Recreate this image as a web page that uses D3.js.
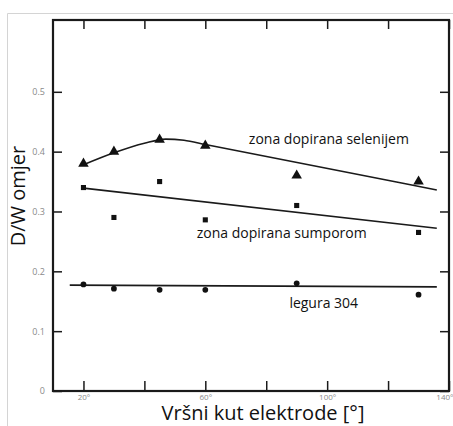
<!DOCTYPE html>
<html><head><meta charset="utf-8">
<script src="https://cdn.jsdelivr.net/npm/d3@7"></script>
<style>body{margin:0;background:#fff;} svg{display:block;}</style>
</head><body>
<svg id="c" width="453" height="426"></svg>
<script>
// data
const angles = [20, 30, 45, 60, 90, 130];
const selenium = [0.38, 0.40, 0.42, 0.41, 0.36, 0.35];
const sulfur = [0.34, 0.29, 0.35, 0.286, 0.31, 0.265];
const alloy304 = [0.178, 0.171, 0.169, 0.169, 0.180, 0.161];
const seleniumFitX = [20, 30, 40, 47, 53, 60, 136];
const seleniumFitY = [0.378, 0.398, 0.414, 0.421, 0.419, 0.412, 0.336];
const sulfurFitX = [20, 136];
const sulfurFitY = [0.339, 0.272];
const alloyFitX = [15.5, 136];
const alloyFitY = [0.177, 0.174];
const xTicks = [20, 40, 60, 80, 100, 120, 140];
const xTickLabels = ["20°", "", "60°", "", "100°", "", "140°"];
const yTicks = [0, 0.1, 0.2, 0.3, 0.4, 0.5];
const yTickLabels = ["0", "0.1", "0.2", "0.3", "0.4", "0.5"];
const seriesLabels = ["zona dopirana selenijem", "zona dopirana sumporom", "legura 304"];
const labelPos = [[74.3, 0.412], [57.2, 0.255], [87.6, 0.139]];

const svg = d3.select("#c");
const x = d3.scaleLinear().domain([10, 140]).range([53, 449]);
const y = d3.scaleLinear().domain([0, 0.62]).range([391, 20]);
const ink = "#1a1a1a";
const X0 = x(10), X1 = x(140), Y0 = y(0), Y1 = y(0.62);
const tickFont = "'Open Sans', sans-serif";

// scan border
svg.append("path").attr("d", d3.line()([[7.5, 426], [7.5, 13.5], [453, 13.5]]))
  .attr("fill", "none").attr("stroke", "#d4d4d4").attr("stroke-width", 1);

// frame
svg.append("rect").attr("x", X0).attr("y", Y1).attr("width", X1 - X0).attr("height", Y0 - Y1)
  .attr("fill", "none").attr("stroke", ink).attr("stroke-width", 2.2);

function styleAxis(g) {
  g.select(".domain").remove();
  g.selectAll(".tick line").attr("stroke", ink).attr("stroke-width", 1.5);
}
// bottom axis, ticks pointing inward
const xb = svg.append("g").attr("transform", `translate(0,${Y0})`)
  .call(d3.axisBottom(x).tickValues(xTicks).tickSizeInner(-10).tickSizeOuter(0).tickPadding(3)
    .tickFormat((d, i) => xTickLabels[i]));
styleAxis(xb);
xb.selectAll("text").attr("fill", "#8a8a8a").style("font-family", tickFont).style("font-size", "8px");
xb.selectAll(".tick").filter(d => d === 140).select("text").attr("text-anchor", "end").attr("x", 4);
// top axis
const xt = svg.append("g").attr("transform", `translate(0,${Y1})`)
  .call(d3.axisTop(x).tickValues(xTicks).tickSizeInner(-9).tickSizeOuter(0).tickFormat(""));
styleAxis(xt);
// left axis
const yl = svg.append("g").attr("transform", `translate(${X0},0)`)
  .call(d3.axisLeft(y).tickValues(yTicks).tickSizeInner(-9).tickSizeOuter(0).tickPadding(8)
    .tickFormat((d, i) => yTickLabels[i]));
styleAxis(yl);
yl.selectAll("text").attr("fill", "#8a8a8a").style("font-family", tickFont).style("font-size", "9px");
// right axis
const yr = svg.append("g").attr("transform", `translate(${X1},0)`)
  .call(d3.axisRight(y).tickValues(yTicks).tickSizeInner(-9).tickSizeOuter(0).tickFormat(""));
styleAxis(yr);

// fitted lines
const fits = [
  [d3.zip(seleniumFitX, seleniumFitY), d3.curveMonotoneX],
  [d3.zip(sulfurFitX, sulfurFitY), d3.curveLinear],
  [d3.zip(alloyFitX, alloyFitY), d3.curveLinear]
];
fits.forEach(([pts, curve]) => {
  const line = d3.line().x(d => x(d[0])).y(d => y(d[1])).curve(curve);
  svg.append("path").datum(pts).attr("d", line)
    .attr("fill", "none").attr("stroke", ink).attr("stroke-width", 1.6);
});

// markers
const sym = [d3.symbolTriangle, d3.symbolSquare, d3.symbolCircle];
const sizes = [48, 26, 26];
[selenium, sulfur, alloy304].forEach((vals, k) => {
  svg.append("g").selectAll("path").data(d3.zip(angles, vals)).join("path")
    .attr("transform", d => `translate(${x(d[0])},${y(d[1])})`)
    .attr("d", d3.symbol().type(sym[k]).size(sizes[k]))
    .attr("fill", "#111");
});

// series labels
seriesLabels.forEach((t, i) => {
  svg.append("text").attr("x", x(labelPos[i][0])).attr("y", y(labelPos[i][1]))
    .text(t).attr("fill", "#111").style("font-family", tickFont).style("font-size", "14px");
});

// axis titles
svg.append("text").attr("x", 263).attr("y", 420).attr("text-anchor", "middle")
  .text("Vršni kut elektrode [°]").attr("fill", "#111")
  .style("font-family", tickFont).style("font-size", "20px");
svg.append("text").attr("transform", "translate(25,196) rotate(-90)").attr("text-anchor", "middle")
  .text("D/W omjer").attr("fill", "#111")
  .style("font-family", tickFont).style("font-size", "20px");
</script>
</body></html>
